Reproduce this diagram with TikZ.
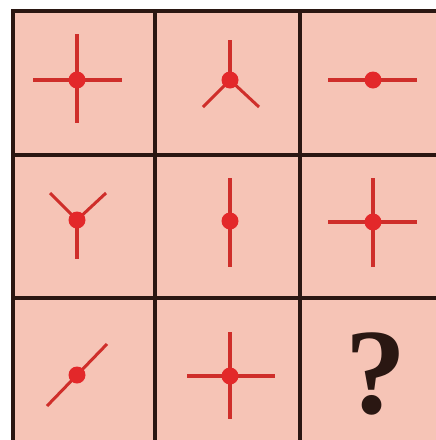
\documentclass[tikz,border=0pt]{standalone}
\usepackage{fontspec}
\setmainfont{Liberation Serif}
\definecolor{cellbg}{HTML}{F6C4B6}
\definecolor{gridc}{HTML}{2A1712}
\definecolor{armc}{HTML}{CF2E2A}
\definecolor{dotc}{HTML}{E3282A}
\begin{document}
\begin{tikzpicture}[x=1pt,y=-1pt,
  arm/.style={draw=armc,line width=4pt},
  thinarm/.style={draw=armc,line width=3pt},
  hub/.style={circle,fill=dotc,inner sep=0pt,minimum size=17pt},
  gridline/.style={draw=gridc,line width=4pt}]
\useasboundingbox (0,0) rectangle (436,440);
\fill[white] (0,0) rectangle (436,440);
\fill[cellbg] (13,11) rectangle (436,440);
% cell 1,1
\coordinate (a1) at (33,80); \coordinate (a2) at (122,80);
\coordinate (a3) at (77,34); \coordinate (a4) at (77,123);
\draw[arm] (a1) -- (a2); \draw[arm] (a3) -- (a4);
\node[hub] (h11) at (77,80) {};
% cell 1,2
\coordinate (b1) at (230,40); \coordinate (b2) at (203,107); \coordinate (b3) at (259,107);
\draw[arm] (b1) -- (230,80); \draw[thinarm] (230,80) -- (b2); \draw[thinarm] (230,80) -- (b3);
\node[hub] (h12) at (230,80) {};
% cell 1,3
\coordinate (c1) at (328,80); \coordinate (c2) at (417,80);
\draw[arm] (c1) -- (c2);
\node[hub] (h13) at (373,80) {};
% cell 2,1
\coordinate (d1) at (50,193); \coordinate (d2) at (106,193); \coordinate (d3) at (77,259);
\draw[thinarm] (d1) -- (77,220); \draw[thinarm] (d2) -- (77,220); \draw[arm] (77,220) -- (d3);
\node[hub] (h21) at (77,220) {};
% cell 2,2
\coordinate (e1) at (230,178); \coordinate (e2) at (230,267);
\draw[arm] (e1) -- (e2);
\node[hub] (h22) at (230,221) {};
% cell 2,3
\coordinate (f1) at (328,222); \coordinate (f2) at (417,222);
\coordinate (f3) at (373,178); \coordinate (f4) at (373,267);
\draw[arm] (f1) -- (f2); \draw[arm] (f3) -- (f4);
\node[hub] (h23) at (373,222) {};
% cell 3,1
\coordinate (g1) at (47,406); \coordinate (g2) at (107,344);
\draw[thinarm] (g1) -- (g2);
\node[hub] (h31) at (77,375) {};
% cell 3,2
\coordinate (k1) at (187,376); \coordinate (k2) at (275,376);
\coordinate (k3) at (230,332); \coordinate (k4) at (230,419);
\draw[arm] (k1) -- (k2); \draw[arm] (k3) -- (k4);
\node[hub] (h32) at (230,376) {};
% cell 3,3
\node[text=gridc,font=\bfseries\fontsize{122}{122}\selectfont,inner sep=0pt] (q) at (376,374) {?};
% grid
\draw[gridline] (13,11) -- (440,11);
\draw[gridline] (13,155) -- (440,155);
\draw[gridline] (13,298) -- (440,298);
\draw[gridline] (13,9) -- (13,444);
\draw[gridline] (155,9) -- (155,444);
\draw[gridline] (300,9) -- (300,444);
\end{tikzpicture}
\end{document}
